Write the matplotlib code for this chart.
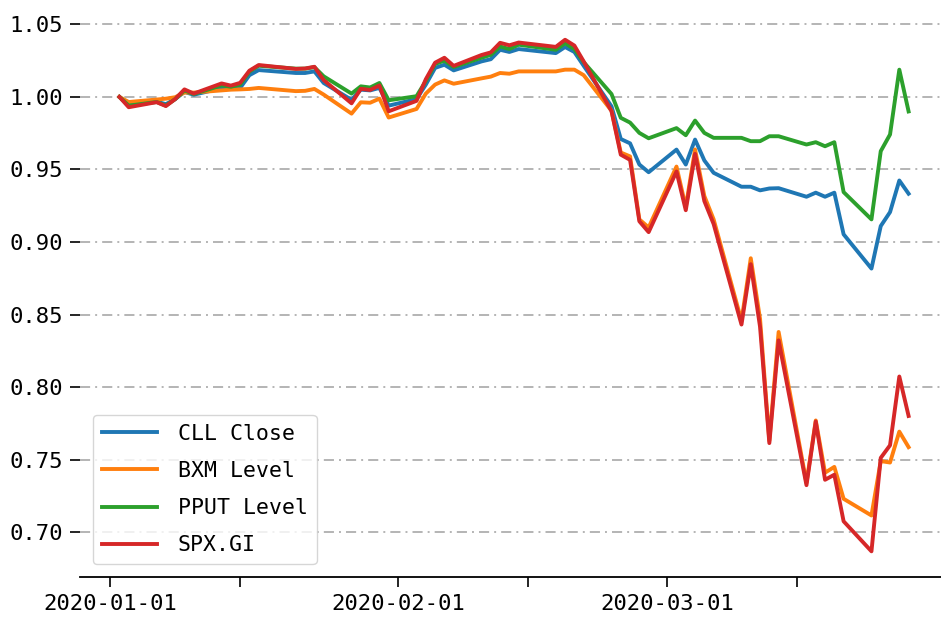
import pandas as pd
import matplotlib
matplotlib.use('Agg')
import matplotlib.pyplot as plt

plt.rcParams['font.family'] = ['DejaVu Sans Mono']

# trading days
dates = ['2020-01-02', '2020-01-03', '2020-01-06', '2020-01-07', '2020-01-08', '2020-01-09',
         '2020-01-10', '2020-01-13', '2020-01-14', '2020-01-15', '2020-01-16', '2020-01-17',
         '2020-01-21', '2020-01-22', '2020-01-23', '2020-01-24', '2020-01-27', '2020-01-28',
         '2020-01-29', '2020-01-30', '2020-01-31',
         '2020-02-03', '2020-02-04', '2020-02-05', '2020-02-06', '2020-02-07', '2020-02-10',
         '2020-02-11', '2020-02-12', '2020-02-13', '2020-02-14', '2020-02-18', '2020-02-19',
         '2020-02-20', '2020-02-21', '2020-02-24', '2020-02-25', '2020-02-26', '2020-02-27',
         '2020-02-28',
         '2020-03-02', '2020-03-03', '2020-03-04', '2020-03-05', '2020-03-06', '2020-03-09',
         '2020-03-10', '2020-03-11', '2020-03-12', '2020-03-13', '2020-03-16', '2020-03-17',
         '2020-03-18', '2020-03-19', '2020-03-20', '2020-03-23', '2020-03-24', '2020-03-25',
         '2020-03-26', '2020-03-27']

# normalised levels (first day = 1)
cll = [1.0000, 0.9945, 0.9968, 0.9950, 0.9985, 1.0035, 1.0015, 1.0060, 1.0060, 1.0062, 1.0150,
       1.0185, 1.0165, 1.0165, 1.0176, 1.0096, 0.9980, 1.0050, 1.0045, 1.0062, 0.9940,
       0.9985, 1.0085, 1.0200, 1.0222, 1.0183, 1.0245, 1.0260, 1.0325, 1.0310, 1.0330,
       1.0302, 1.0344, 1.0310, 1.0215, 0.9935, 0.9710, 0.9680, 0.9534, 0.9481,
       0.9637, 0.9534, 0.9706, 0.9562, 0.9477, 0.9381, 0.9381, 0.9356, 0.9369, 0.9371,
       0.9312, 0.9340, 0.9312, 0.9340, 0.9053, 0.8817, 0.9110, 0.9206, 0.9424, 0.9333]

bxm = [1.0000, 0.9965, 0.9982, 0.9988, 0.9998, 1.0030, 1.0030, 1.0045, 1.0050, 1.0052, 1.0055,
       1.0062, 1.0040, 1.0042, 1.0055, 1.0016, 0.9885, 0.9963, 0.9960, 0.9988, 0.9858,
       0.9917, 1.0023, 1.0085, 1.0114, 1.0091, 1.0128, 1.0140, 1.0165, 1.0160, 1.0176,
       1.0176, 1.0188, 1.0188, 1.0150, 0.9905, 0.9617, 0.9590, 0.9156, 0.9100,
       0.9520, 0.9240, 0.9638, 0.9317, 0.9156, 0.8457, 0.8888, 0.8470, 0.7630, 0.8380,
       0.7340, 0.7770, 0.7410, 0.7450, 0.7230, 0.7115, 0.7490, 0.7480, 0.7693, 0.7586]

pput = [1.0000, 0.9940, 0.9965, 0.9940, 0.9985, 1.0045, 1.0020, 1.0080, 1.0070, 1.0085, 1.0175,
        1.0215, 1.0195, 1.0195, 1.0205, 1.0142, 1.0023, 1.0073, 1.0065, 1.0096, 0.9977,
        1.0005, 1.0110, 1.0227, 1.0250, 1.0206, 1.0270, 1.0290, 1.0348, 1.0330, 1.0360,
        1.0325, 1.0370, 1.0330, 1.0240, 1.0020, 0.9856, 0.9823, 0.9752, 0.9715,
        0.9785, 0.9736, 0.9837, 0.9752, 0.9718, 0.9718, 0.9695, 0.9695, 0.9729, 0.9729,
        0.9672, 0.9688, 0.9660, 0.9688, 0.9344, 0.9156, 0.9626, 0.9741, 1.0188, 0.9900]

spx = [1.0000, 0.9929, 0.9964, 0.9937, 0.9985, 1.0052, 1.0023, 1.0093, 1.0078, 1.0097, 1.0181,
       1.0220, 1.0193, 1.0196, 1.0208, 1.0116, 0.9956, 1.0056, 1.0048, 1.0079, 0.9901,
       0.9973, 1.0122, 1.0236, 1.0270, 1.0214, 1.0289, 1.0307, 1.0373, 1.0356, 1.0375,
       1.0345, 1.0394, 1.0354, 1.0245, 0.9902, 0.9602, 0.9566, 0.9143, 0.9068,
       0.9486, 0.9219, 0.9608, 0.9282, 0.9124, 0.8431, 0.8847, 0.8415, 0.7614, 0.8322,
       0.7324, 0.7763, 0.7361, 0.7396, 0.7075, 0.6868, 0.7512, 0.7599, 0.8073, 0.7801]

series_names = ['CLL Close', 'BXM Level', 'PPUT Level', 'SPX.GI']
tick_dates = ['2020-01-01', '2020-01-15', '2020-02-01', '2020-02-15', '2020-03-01', '2020-03-15']
tick_labels = ['2020-01-01', '', '2020-02-01', '', '2020-03-01', '']
yticks = [0.70, 0.75, 0.80, 0.85, 0.90, 0.95, 1.00, 1.05]

df = pd.DataFrame({'CLL Close': cll, 'BXM Level': bxm, 'PPUT Level': pput, 'SPX.GI': spx},
                  index=pd.to_datetime(dates))

fig = plt.figure(figsize=(9.41, 6.17), dpi=100)
ax = fig.add_axes([0.085, 0.065, 0.9225, 0.912])

for name in series_names:
    ax.plot(df.index, df[name], lw=2.8, label=name)

ax.set_yticks(yticks)
ax.set_yticklabels(['%.2f' % v for v in yticks])
ax.set_xticks(pd.to_datetime(tick_dates))
ax.set_xticklabels(tick_labels)

ax.yaxis.grid(True, color='#b4b4b4', lw=1.4, linestyle=(0, (5.2, 2.6, 1.0, 2.6)))
ax.tick_params(axis='both', labelsize=16, length=7, width=1.2, pad=5)

for s in ['top', 'right', 'left']:
    ax.spines[s].set_visible(False)
ax.spines['bottom'].set_linewidth(1.3)

ax.legend(loc='lower left', fontsize=15.5, handlelength=2.6, handletextpad=0.95,
          labelspacing=0.8, borderaxespad=0.6)

fig.savefig('out.png', dpi=100)
